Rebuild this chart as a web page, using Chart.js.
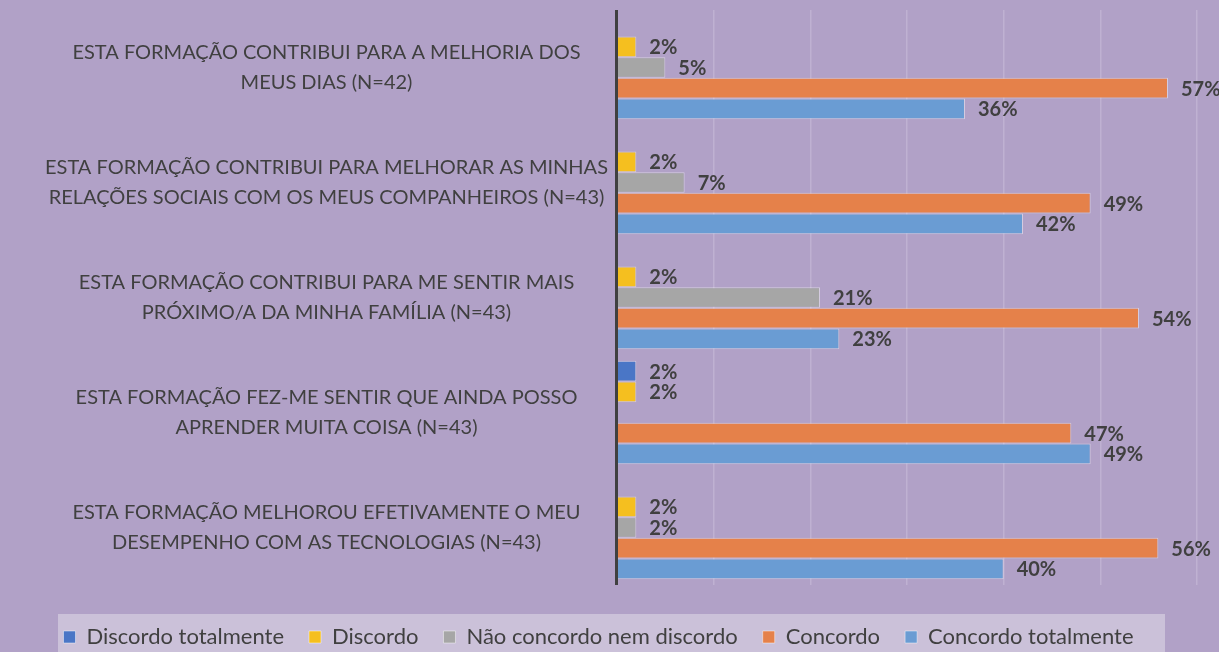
<!DOCTYPE html>
<html>
<head>
<meta charset="utf-8">
<script src="https://cdn.jsdelivr.net/npm/chart.js@4/dist/chart.umd.min.js"></script>
<style>
    html, body { margin: 0; padding: 0; background: #b1a1c7; }
    #wrap { width: 1219px; height: 652px; position: relative; }
</style>
</head>
<body>
<div id="wrap"><canvas id="chart"></canvas></div>
<script>
const categories = [
    ['ESTA FORMAÇÃO CONTRIBUI PARA A MELHORIA DOS', 'MEUS DIAS (N=42)'],
    ['ESTA FORMAÇÃO CONTRIBUI PARA MELHORAR AS MINHAS', 'RELAÇÕES SOCIAIS COM OS MEUS COMPANHEIROS (N=43)'],
    ['ESTA FORMAÇÃO CONTRIBUI PARA ME SENTIR MAIS', 'PRÓXIMO/A DA MINHA FAMÍLIA (N=43)'],
    ['ESTA FORMAÇÃO FEZ-ME SENTIR QUE AINDA POSSO', 'APRENDER MUITA COISA (N=43)'],
    ['ESTA FORMAÇÃO MELHOROU EFETIVAMENTE O MEU', 'DESEMPENHO COM AS TECNOLOGIAS (N=43)']
];

const seriesNames = ['Discordo totalmente', 'Discordo', 'Não concordo nem discordo', 'Concordo', 'Concordo totalmente'];

const discordoTotalmente = [null, null, null, 2, null];
const discordo = [2, 2, 2, 2, 2];
const naoConcordo = [5, 7, 21, null, 2];
const concordo = [57, 49, 54, 47, 56];
const concordoTotalmente = [36, 42, 23, 49, 40];

const xTicks = [0, 10, 20, 30, 40, 50, 60];

const colors = ['#4a76c6', '#f5bf1f', '#a6a6a6', '#e5814a', '#6a9cd3'];
const textColor = '#404040';
const fontFamily = 'Lato, "Open Sans", sans-serif';

// background + legend box
const bgPlugin = {
    id: 'bg',
    beforeDraw(chart) {
        const ctx = chart.ctx;
        ctx.save();
        ctx.fillStyle = '#b1a1c7';
        ctx.fillRect(0, 0, chart.width, chart.height);
        ctx.fillStyle = '#cbc1d9';
        ctx.fillRect(58, 614, 1107, 38);
        ctx.restore();
    }
};

// axis line on the left of the plot
const axisLinePlugin = {
    id: 'axisLine',
    afterDatasetsDraw(chart) {
        const { ctx, chartArea } = chart;
        const x = chart.scales.x.getPixelForValue(0);
        ctx.save();
        ctx.strokeStyle = '#404040';
        ctx.lineWidth = 3;
        ctx.beginPath();
        ctx.moveTo(x - 0.5, chartArea.top);
        ctx.lineTo(x - 0.5, chartArea.bottom);
        ctx.stroke();
        ctx.restore();
    }
};

// value labels right of each bar
const valueLabels = {
    id: 'valueLabels',
    afterDatasetsDraw(chart) {
        const ctx = chart.ctx;
        ctx.save();
        ctx.font = `bold 20px ${fontFamily}`;
        ctx.fillStyle = textColor;
        ctx.textAlign = 'left';
        ctx.textBaseline = 'middle';
        chart.data.datasets.forEach((ds, i) => {
            const meta = chart.getDatasetMeta(i);
            meta.data.forEach((bar, j) => {
                const v = ds.data[j];
                if (v === null || v === undefined) return;
                ctx.fillText(v + '%', bar.x + 13, bar.y + 1);
            });
        });
        ctx.restore();
    }
};

const seriesData = [discordoTotalmente, discordo, naoConcordo, concordo, concordoTotalmente];

new Chart(document.getElementById('chart'), {
    type: 'bar',
    data: {
        labels: categories,
        datasets: seriesNames.map((name, i) => ({
            label: name,
            data: seriesData[i],
            backgroundColor: colors[i],
            borderColor: 'rgba(255,255,255,0.45)',
            borderWidth: 1,
            categoryPercentage: 0.9,
            barPercentage: 1
        }))
    },
    options: {
        indexAxis: 'y',
        responsive: true,
        maintainAspectRatio: false,
        animation: false,
        layout: {
            padding: { top: 10, right: 22, left: 0, bottom: -6 }
        },
        plugins: {
            legend: {
                position: 'bottom',
                labels: {
                    color: textColor,
                    font: { family: fontFamily, size: 22 },
                    boxWidth: 12,
                    boxHeight: 12,
                    padding: 25
                }
            },
            tooltip: { enabled: false }
        },
        scales: {
            x: {
                min: 0,
                max: 60,
                afterBuildTicks: (scale) => {
                    scale.ticks = xTicks.map(v => ({ value: v }));
                },
                afterFit: (scale) => {
                    scale.height = 16;
                },
                ticks: { display: false },
                border: { display: false },
                grid: {
                    color: 'rgba(225, 215, 235, 0.3)',
                    lineWidth: 1.5,
                    drawTicks: false
                }
            },
            y: {
                afterFit: (scale) => {
                    scale.width = 617;
                    scale.paddingTop = 0;
                    scale.paddingBottom = 0;
                },
                border: { display: false },
                grid: { display: false, drawTicks: false },
                ticks: {
                    crossAlign: 'center',
                    padding: 9,
                    color: textColor,
                    font: { family: fontFamily, size: 20, lineHeight: 1.5 }
                }
            }
        }
    },
    plugins: [bgPlugin, axisLinePlugin, valueLabels]
});
</script>
</body>
</html>
